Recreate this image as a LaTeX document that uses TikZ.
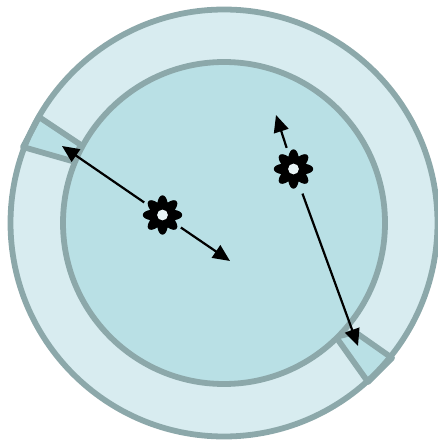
\documentclass[tikz,border=0pt]{standalone}
\usepackage{xcolor}
\usetikzlibrary{arrows.meta}
\definecolor{rim}{HTML}{8CA8AA}
\definecolor{ring}{HTML}{D8ECF0}
\definecolor{core}{HTML}{B9E0E5}
\definecolor{eye}{HTML}{E8F4F6}
\tikzset{
  wall/.style={draw=rim,line width=5.8pt},
  slot/.style={wall,fill=core,line join=round},
  hub/.style={circle,inner sep=0pt,minimum size=44pt},
  flow/.style={-{Triangle[length=17pt,width=15pt]},line width=2.2pt,draw=black},
  flower/.pic={
    \fill[black] plot[domain=0:360,samples=241]
      ({(13.4+6.2*abs(cos(4*\x))^1.2)*cos(\x)},{(13.4+6.2*abs(cos(4*\x))^1.2)*sin(\x)}) -- cycle;
    \fill[eye] (0,0) circle [radius=5.4];
  }
}
\begin{document}
\begin{tikzpicture}[x=1pt,y=-1pt]
  \useasboundingbox (0,0) rectangle (437,441);
  \coordinate (mid) at (224,223);
  \fill[ring] (mid) circle [radius=213.5];
  \draw[slot] (39,117) -- (81,145) -- (72,161) -- (23,147) -- cycle;
  \draw[slot] (336,337) -- (368,382) -- (392,358) -- (355,332) -- cycle;
  \draw[wall] (mid) circle [radius=213.5];
  \draw[wall,fill=core] (mid) circle [radius=161];
  \node[hub] (bloomA) at (162.5,215) {};
  \node[hub] (bloomB) at (293.5,169) {};
  \pic at (bloomA) {flower};
  \pic at (bloomB) {flower};
  \coordinate (tipA) at (62,146);
  \coordinate (tipB) at (230,261);
  \coordinate (tipC) at (276,115);
  \coordinate (tipD) at (358,346);
  \draw[flow] (bloomA) -- (tipA);
  \draw[flow] (bloomA) -- (tipB);
  \draw[flow] (bloomB) -- (tipC);
  \draw[flow,shorten <=4pt] (bloomB) -- (tipD);
\end{tikzpicture}
\end{document}
